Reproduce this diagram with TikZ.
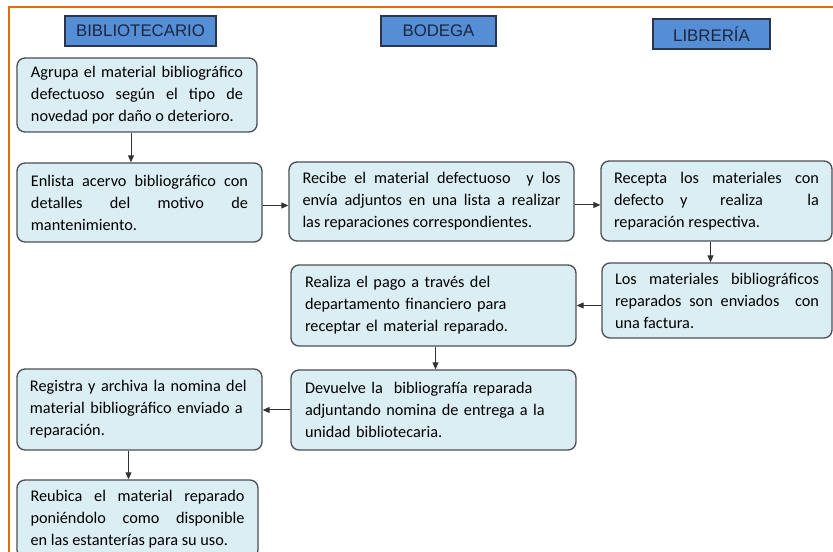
\documentclass[tikz,border=0pt]{standalone}
\usepackage{fontspec}
\setmainfont{Carlito}
\newfontfamily\hdrfont{Liberation Sans}
\usetikzlibrary{arrows.meta}
\definecolor{boxfill}{HTML}{DBEEF4}
\definecolor{boxline}{HTML}{4A4F55}
\definecolor{hdrfill}{HTML}{558ED5}
\definecolor{hdrline}{HTML}{2A3550}
\definecolor{hdrtext}{HTML}{1C2640}
\definecolor{frameorange}{HTML}{E46C0A}
\definecolor{arrowgray}{HTML}{333333}
\tikzset{
  proc/.style={draw=boxline, line width=1pt, fill=boxfill, rounded corners=6pt,
    inner sep=0pt, font=\fontsize{12.2}{16.5}\selectfont, text=black},
  jst/.style={align=justify},
  lft/.style={align=left},
  hdr/.style={draw=hdrline, line width=0.9pt, fill=hdrfill, inner sep=0pt,
    minimum height=22.5pt, font=\hdrfont\fontsize{12.6}{14}\selectfont, text=hdrtext},
  arr/.style={draw=arrowgray, line width=0.75pt, -{Triangle[length=5.25pt,width=4.5pt]}},
}
\begin{document}
\begin{tikzpicture}[x=0.75pt,y=-0.75pt]
\useasboundingbox (0,0) rectangle (833,552);
\fill[white] (0,0) rectangle (833,552);
\draw[frameorange, line width=1.5pt] (9,580) -- (9,7.5) -- (860,7.5);

% headers
\node[hdr, minimum width=113.25pt] (h1) at (140.5,31) {BIBLIOTECARIO};
\node[hdr, minimum width=86.25pt] (h2) at (438.5,31) {BODEGA};
\node[hdr, minimum width=87.75pt] (h3) at (711.5,34) {LIBRERÍA};

% process boxes
\node[proc, jst, minimum width=180pt, minimum height=55.5pt, text width=159pt] (a1) at (137,95)
 {Agrupa el material bibliográfico\linebreak defectuoso según el tipo de\linebreak novedad por daño o deterioro.};
\node[proc, jst, minimum width=183.75pt, minimum height=59.25pt, text width=162.75pt] (a2) at (139.5,202.5)
 {Enlista acervo bibliográfico con\linebreak detalles del motivo de\linebreak mantenimiento.};
\node[proc, jst, minimum width=213.75pt, minimum height=59.25pt, text width=193.5pt] (b1) at (431.5,201.5)
 {Recibe el material defectuoso\ \ y los\linebreak envía adjuntos en una lista a realizar\linebreak las reparaciones correspondientes.};
\node[proc, jst, minimum width=173.25pt, minimum height=60pt, text width=153.75pt] (c1) at (716.5,201)
 {Recepta los materiales con\linebreak defecto\quad y\qquad realiza la\linebreak reparación respectiva.};
\node[proc, jst, minimum width=172.5pt, minimum height=56.25pt, text width=153pt] (c2) at (717,300.5)
 {Los materiales bibliográficos\linebreak reparados son enviados\ \ con\linebreak una factura.};
\node[proc, lft, minimum width=213.75pt, minimum height=60.75pt, text width=192.75pt] (b2) at (433.5,305.5)
 {Realiza el pago a través del\\ departamento financiero para\\ receptar el material reparado.};
\node[proc, lft, minimum width=213.75pt, minimum height=60pt, text width=192.75pt] (b3) at (433.5,410)
 {Devuelve la\ \ bibliografía reparada\\ adjuntando nomina de entrega a la\\ unidad bibliotecaria.};
\node[proc, lft, minimum width=183.75pt, minimum height=60.75pt, text width=164.25pt] (a3) at (139.5,409.5)
 {Registra y archiva la nomina del\\ material bibliográfico enviado a\\ reparación.};
\node[proc, jst, minimum width=180.75pt, minimum height=58.5pt, text width=160.5pt] (a4) at (137.5,519)
 {Reubica el material reparado\linebreak poniéndolo como disponible\linebreak en las estanterías para su uso.};

% connectors
\draw[arr] ([xshift=-4.5pt]a1.south) -- ([xshift=-4.5pt]a1.south |- a2.north);
\draw[arr] ([yshift=-2.25pt]a2.east) -- ([yshift=-2.25pt]a2.east -| b1.west);
\draw[arr] ([yshift=-2.6pt]b1.east) -- ([yshift=-2.6pt]b1.east -| c1.west);
\draw[arr] ([xshift=-4.5pt]c1.south) -- ([xshift=-4.5pt]c1.south |- c2.north);
\draw[arr] (b2.east -| c2.west) -- (b2.east);
\draw[arr] ([xshift=1.5pt]b2.south) -- ([xshift=1.5pt]b2.south |- b3.north);
\draw[arr] (b3.west) -- (b3.west -| a3.east);
\draw[arr] ([xshift=-8.25pt]a3.south) -- ([xshift=-8.25pt]a3.south |- a4.north);
\end{tikzpicture}
\end{document}
